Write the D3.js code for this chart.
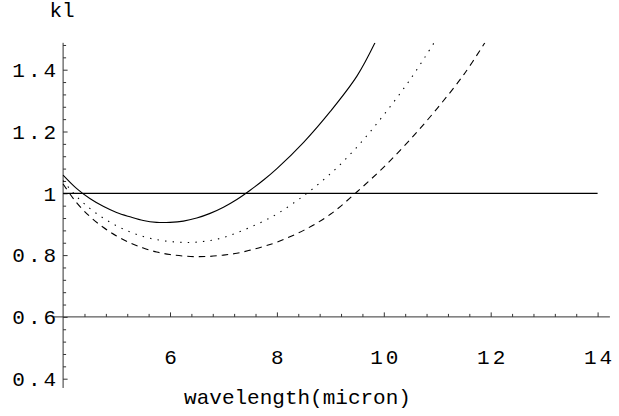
<!DOCTYPE html>
<html>
<head>
<meta charset="utf-8">
<script src="https://cdn.jsdelivr.net/npm/d3@7"></script>
<style>
  html, body { margin: 0; padding: 0; background: #fff; }
  svg { display: block; }
  text { font-family: "Liberation Mono", "Courier New", monospace; fill: #000; }
</style>
</head>
<body>
<svg id="chart" width="619" height="416"></svg>
<script>
// Wavelength samples (micron) and kl values for the three curves
const solidWl   = [4.0, 4.25, 4.5, 4.75, 5.0, 5.25, 5.5, 5.75, 6.0, 6.25, 6.5, 6.75, 7.0, 7.25, 7.5, 7.75, 8.0, 8.5, 9.0, 9.5, 9.835];
const solidKl   = [1.059, 1.016, 0.983, 0.958, 0.938, 0.924, 0.912, 0.906, 0.906, 0.910, 0.920, 0.935, 0.955, 0.980, 1.010, 1.043, 1.080, 1.165, 1.265, 1.380, 1.487];

const dottedWl  = [4.0, 4.25, 4.5, 4.75, 5.0, 5.25, 5.5, 5.75, 6.0, 6.25, 6.5, 6.75, 7.0, 7.25, 7.5, 7.75, 8.0, 8.5, 9.0, 9.5, 10.0, 10.5, 10.94];
const dottedKl  = [1.041, 0.990, 0.951, 0.920, 0.895, 0.875, 0.860, 0.850, 0.844, 0.841, 0.842, 0.847, 0.857, 0.872, 0.890, 0.910, 0.933, 0.992, 1.063, 1.150, 1.254, 1.370, 1.487];

const dashedWl  = [4.0, 4.25, 4.5, 4.75, 5.0, 5.25, 5.5, 5.75, 6.0, 6.25, 6.5, 6.75, 7.0, 7.25, 7.5, 7.75, 8.0, 8.5, 9.0, 9.5, 10.0, 10.5, 11.0, 11.5, 11.89];
const dashedKl  = [1.030, 0.970, 0.925, 0.890, 0.862, 0.840, 0.823, 0.810, 0.802, 0.797, 0.795, 0.796, 0.800, 0.806, 0.816, 0.828, 0.842, 0.880, 0.932, 1.005, 1.085, 1.175, 1.275, 1.385, 1.487];

// Reference level kl = 1 across the wavelength range
const refWl = [4, 14];
const refKl = [1, 1];

// Axis ticks and labels
const xMajorTicks = [6, 8, 10, 12, 14];
const xTickLabels = ["6", "8", "10", "12", "14"];
const yMajorTicks = [0.4, 0.6, 0.8, 1.0, 1.2, 1.4];
const yTickLabels = ["0.4", "0.6", "0.8", "1", "1.2", "1.4"];
const xLabel = "wavelength(micron)";
const yLabel = "kl";

const svg = d3.select("#chart");

// Plot range and axes origin
const xRange = [3.83, 14.23];
const yRange = [0.37, 1.487];
const origin = { x: 4, y: 0.6 };

const x = d3.scaleLinear().domain([4, 14]).range([63.1, 597.6]);
const y = d3.scaleLinear().domain([0.4, 1.4]).range([378.7, 69.7]);

// minor tick positions (5 subdivisions per major interval)
const xMinor = d3.range(4, 14.2001, 0.4).filter(v => Math.abs(v / 2 - Math.round(v / 2)) > 1e-6);
const yMinor = d3.range(0.4, 1.4801, 0.04).filter(v => Math.abs(v / 0.2 - Math.round(v / 0.2)) > 1e-6);

const axisColor = "#333";
const tickSpacing = 3;

// x axis line at kl = 0.6
svg.append("line")
  .attr("x1", x(xRange[0])).attr("x2", x(xRange[1]))
  .attr("y1", y(origin.y)).attr("y2", y(origin.y))
  .attr("stroke", axisColor).attr("stroke-width", 1);

// y axis line at wavelength = 4
svg.append("line")
  .attr("x1", x(origin.x)).attr("x2", x(origin.x))
  .attr("y1", y(yRange[1])).attr("y2", y(yRange[0]))
  .attr("stroke", axisColor).attr("stroke-width", 1);

// x ticks (pointing up into the plot)
svg.append("g").attr("transform", `translate(0,${y(origin.y)})`)
  .call(d3.axisBottom(x).tickValues(xMajorTicks).tickSizeInner(-4.5).tickSizeOuter(0)
    .tickPadding(32).tickFormat((d, i) => xTickLabels[i]))
  .call(g => g.select(".domain").remove())
  .call(g => g.selectAll("line").attr("stroke", axisColor))
  .call(g => g.selectAll("text")
    .attr("font-size", 21).attr("font-family", "Liberation Mono")
    .attr("letter-spacing", tickSpacing).attr("dx", tickSpacing / 2));
svg.append("g").attr("transform", `translate(0,${y(origin.y)})`)
  .call(d3.axisBottom(x).tickValues(xMinor).tickSizeInner(-3).tickSizeOuter(0).tickFormat(""))
  .call(g => g.select(".domain").remove())
  .call(g => g.selectAll("line").attr("stroke", axisColor));

// y ticks (pointing right into the plot)
svg.append("g").attr("transform", `translate(${x(origin.x)},0)`)
  .call(d3.axisLeft(y).tickValues(yMajorTicks).tickSizeInner(-4.5).tickSizeOuter(0)
    .tickPadding(7 - tickSpacing).tickFormat((d, i) => yTickLabels[i]))
  .call(g => g.select(".domain").remove())
  .call(g => g.selectAll("line").attr("stroke", axisColor))
  .call(g => g.selectAll("text")
    .attr("font-size", 21).attr("font-family", "Liberation Mono")
    .attr("letter-spacing", tickSpacing));
svg.append("g").attr("transform", `translate(${x(origin.x)},0)`)
  .call(d3.axisLeft(y).tickValues(yMinor).tickSizeInner(-3).tickSizeOuter(0).tickFormat(""))
  .call(g => g.select(".domain").remove())
  .call(g => g.selectAll("line").attr("stroke", axisColor));

// clip curves to the plot range
svg.append("clipPath").attr("id", "plotClip")
  .append("rect")
  .attr("x", x(xRange[0])).attr("y", y(yRange[1]))
  .attr("width", x(xRange[1]) - x(xRange[0]))
  .attr("height", y(yRange[0]) - y(yRange[1]));

const line = d3.line().x(d => x(d[0])).y(d => y(d[1])).curve(d3.curveCatmullRom.alpha(0.5));
const zip = (a, b) => a.map((v, i) => [v, b[i]]);

const curves = svg.append("g").attr("clip-path", "url(#plotClip)").attr("fill", "none");

curves.append("path").datum(zip(refWl, refKl))
  .attr("d", d3.line().x(d => x(d[0])).y(d => y(d[1])))
  .attr("stroke", "#000").attr("stroke-width", 1.2);

curves.append("path").datum(zip(solidWl, solidKl))
  .attr("d", line).attr("stroke", "#000").attr("stroke-width", 1.1);

curves.append("path").datum(zip(dottedWl, dottedKl))
  .attr("d", line).attr("stroke", "#000").attr("stroke-width", 1.1)
  .attr("stroke-dasharray", "1.4,6.2");

curves.append("path").datum(zip(dashedWl, dashedKl))
  .attr("d", line).attr("stroke", "#000").attr("stroke-width", 1.1)
  .attr("stroke-dasharray", "6.5,5");

// axis titles
svg.append("text").attr("x", 62).attr("y", 17).attr("text-anchor", "middle")
  .attr("font-size", 21).text(yLabel);
svg.append("text").attr("x", 297.5).attr("y", 404).attr("text-anchor", "middle")
  .attr("font-size", 21).text(xLabel);
</script>
</body>
</html>
